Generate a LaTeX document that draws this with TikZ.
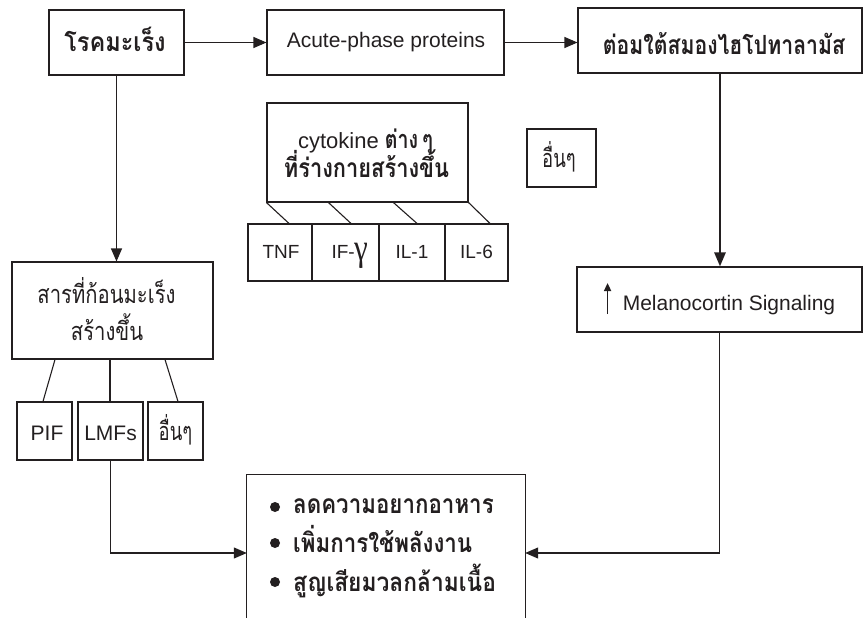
\documentclass[tikz,border=0pt]{standalone}
\usepackage{fontspec}
\setmainfont{Liberation Sans}
\newfontfamily\thai[Script=Thai]{Loma}
\newfontfamily\greekserif{Liberation Serif}
\usetikzlibrary{arrows.meta,calc}
\definecolor{ink}{HTML}{231F20}
\newcommand\sqz[3]{\scalebox{#1}[#2]{#3}}
\begin{document}
\begin{tikzpicture}[x=1pt,y=-1pt,color=ink,
  box/.style={draw, line width=1.1pt, inner sep=0pt},
  arr/.style={line width=1.1pt, -{Triangle[length=13pt,width=11pt]}},
  thickarr/.style={line width=2.6pt, -{Triangle[length=14pt,width=11pt]}},
  ln/.style={line width=1.1pt},
  lat/.style={inner sep=0pt, font=\fontsize{21}{24}\selectfont},
  latsm/.style={inner sep=0pt, font=\fontsize{19}{22}\selectfont},
  thr/.style={inner sep=0pt, font=\thai\fontsize{23}{28}\selectfont},
  thb/.style={inner sep=0pt, font=\thai\bfseries\fontsize{24}{30}\selectfont}]
\useasboundingbox (0,0) rectangle (863,618);

% top row
\node[box, minimum width=135pt, minimum height=65pt] (b1) at (116.5,42.5) {};
\node[thb, anchor=base] (b1t) at (115,52) {\sqz{0.98}{1.1}{โรคมะเร็ง}};
\node[box, minimum width=237pt, minimum height=65pt] (b2) at (385.5,42.5) {};
\node[lat, anchor=base] (b2t) at (386,48) {Acute-phase proteins};
\node[box, minimum width=284pt, minimum height=65pt] (b3) at (720,40.5) {};
\node[thb, anchor=base] (b3t) at (724,55) {\sqz{0.885}{1.1}{ต่อมใต้สมองไฮโปทาลามัส}};

% cytokine group
\node[box, minimum width=201pt, minimum height=99pt] (cyt) at (367.5,152.5) {};
\node[inner sep=0pt, anchor=base] (cyt1) at (365.5,148) {\fontsize{22}{24}\selectfont cytokine \sqz{0.85}{1.1}{\thai\bfseries\fontsize{23}{28}\selectfont ต่าง\kern5pt ๆ}};
\node[thb, anchor=base] (cyt2) at (366.5,177) {\sqz{0.91}{1.1}{ที่ร่างกายสร้างขึ้น}};

\node[box, minimum width=64pt, minimum height=57pt] (tnf) at (280,252.5) {};
\node[box, minimum width=67pt, minimum height=57pt] (ifg) at (345.5,252.5) {};
\node[box, minimum width=66pt, minimum height=57pt] (ilone) at (412,252.5) {};
\node[box, minimum width=63pt, minimum height=57pt] (ilsix) at (476.5,252.5) {};
\node[latsm, anchor=base] (tnft) at (281,258) {TNF};
\node[latsm, anchor=base] (ifgt) at (350,258) {IF-\raisebox{-2pt}{\scalebox{1.15}[1.4]{\greekserif\fontsize{27}{27}\selectfont γ}}};
\node[latsm, anchor=base] (ilonet) at (412,258) {IL-1};
\node[latsm, anchor=base] (ilsixt) at (476.5,258) {IL-6};

\draw[ln] (cyt.south west) -- ([xshift=9pt]tnf.north);
\draw[ln] ([xshift=62pt]cyt.south west) -- ([xshift=5.5pt]ifg.north);
\draw[ln] ([xshift=127pt]cyt.south west) -- ([xshift=5pt]ilone.north);
\draw[ln] (cyt.south east) -- ([xshift=13.5pt]ilsix.north);

% others box (top)
\node[box, minimum width=69pt, minimum height=58pt] (oth1) at (561.5,158) {};
\node[thr, anchor=base] (oth1t) at (559,167) {\sqz{0.8}{1.1}{อื่นๆ}};

% tumor group
\node[box, minimum width=201pt, minimum height=97pt] (tumor) at (112.5,310.5) {};
\node[thr, anchor=base] (tum1) at (106.5,303) {\sqz{0.88}{1.1}{สารที่ก้อนมะเร็ง}};
\node[thr, anchor=base] (tum2) at (107,340) {\sqz{0.88}{1.1}{สร้างขึ้น}};

\node[box, minimum width=55pt, minimum height=58pt] (pif) at (44.5,431) {};
\node[box, minimum width=65pt, minimum height=58pt] (lmfs) at (110.5,431) {};
\node[box, minimum width=55pt, minimum height=58pt] (oth2) at (175.5,431) {};
\node[lat, anchor=base] (pift) at (47,440) {PIF};
\node[lat, anchor=base] (lmfst) at (110.5,440) {LMFs};
\node[thr, anchor=base] (oth2t) at (175.5,440) {\sqz{0.8}{1.1}{อื่นๆ}};

\draw[ln] ([xshift=-57.5pt]tumor.south) -- ([xshift=-1.5pt]pif.north);
\draw[ln] ([xshift=-2.5pt]tumor.south) -- ([xshift=-0.5pt]lmfs.north);
\draw[ln] ([xshift=52.5pt]tumor.south) -- ([xshift=2.5pt]oth2.north);

% melanocortin
\node[box, minimum width=285pt, minimum height=65pt] (mel) at (719.5,299.5) {};
\node[lat, anchor=base] (melt) at (729,310) {Melanocortin Signaling};
\draw[line width=1.6pt, -{Triangle[length=8pt,width=7pt]}] ([xshift=-15pt,yshift=-4pt]melt.base west) -- ([xshift=-15pt,yshift=27pt]melt.base west);

% effects
\node[minimum width=278pt, minimum height=143pt, inner sep=0pt] (eff) at (386,546.5) {};
\draw[ln] (eff.south west) -- (eff.north west) -- (eff.north east) -- (eff.south east);
\node[thb, anchor=base west] (e1) at (293,513) {\sqz{0.93}{1.1}{ลดความอยากอาหาร}};
\node[thb, anchor=base west] (e2) at (293,552) {\sqz{0.93}{1.1}{เพิ่มการใช้พลังงาน}};
\node[thb, anchor=base west] (e3) at (293,591) {\sqz{0.95}{1.08}{สูญเสียมวลกล้ามเนื้อ}};
\fill ([xshift=-18pt,yshift=6pt]e1.base west) circle (5pt);
\fill ([xshift=-18pt,yshift=9pt]e2.base west) circle (5pt);
\fill ([xshift=-18pt,yshift=9pt]e3.base west) circle (5pt);

% connectors
\draw[arr] (b1.east) -- (b2.west);
\draw[arr] (b2.east) -- (b2.east -| b3.west);
\draw[arr] (b1.south) -- (b1.south |- tumor.north);
\draw[thickarr] (b3.south) -- (b3.south |- mel.north);
\draw[arr] (mel.south) |- ([yshift=-6.5pt]eff.east);
\draw[arr] (lmfs.south) |- ([yshift=-6.5pt]eff.west);
\end{tikzpicture}
\end{document}
